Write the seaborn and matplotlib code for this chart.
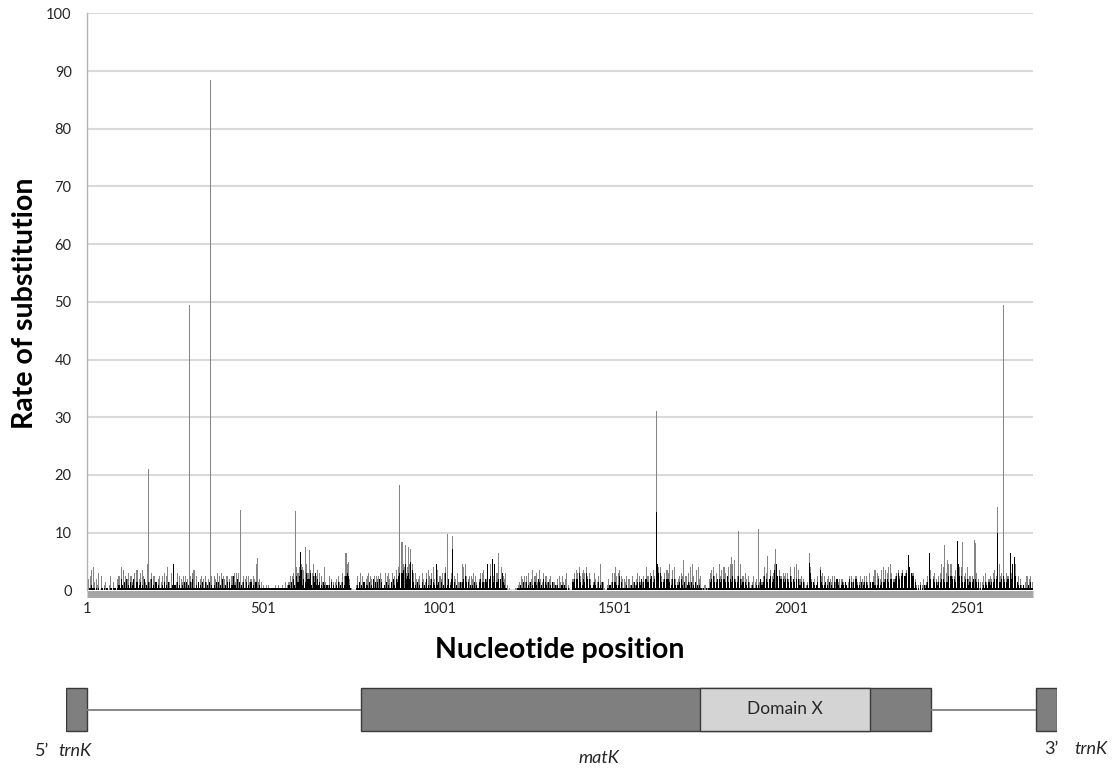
import numpy as np
import pandas as pd
import matplotlib
matplotlib.use("Agg")
import matplotlib.pyplot as plt
import seaborn as sns
from matplotlib.patches import Rectangle

# ---- data ----
n_positions = 2688
step = 3          # one background value per ~pixel column = 3 nucleotides
x_ticks = [1, 501, 1001, 1501, 2001, 2501]
y_ticks = list(range(0, 101, 10))

# background heights, one digit per column, digit * 0.5 = rate
gray_bg = (
    "3405708304" "2605002300" "0250030104" "5080735046" "0553060704" "6075030943"
    "4605520450" "3506058030" "6090360504" "3505040653" "6705020450" "4053040350"
    "5406050645" "4055040506" "3646050350" "4505340540" "9434030200" "2020101020"
    "1200120130" "2350560386" "6809870496" "8706950570" "60530"
    "8302504030" "3405303605" "9964010000" "2503605304" "5605404505" "4506402605"
    "6403605074" "8909980689" "9709606404" "5064036075" "4608403705" "4606805303"
    "6905406303" "9809504505" "4605304606" "7304803904" "5906403805" "4602010000"
    "0102305405" "3506304705" "6307403605" "5304503302" "40530"
    "5304602100" "4607608506" "7608506403" "6403509303" "1002403606" "8506705404"
    "3504205302" "4605303503" "8506407505" "7808504607" "6904708403" "4506503506"
    "3809503708" "4501020104" "6708506409" "5708605809" "6908405909" "4506405302"
    "3503405303" "5806504705" "6908407506" "5606408504" "80907"
    "4504302309" "8403402508" "5605304504" "3505303404" "4303203505" "3405303504"
    "3505306303" "5706504708" "4706809604" "5607506705" "6708605604" "2020302402"
    "3509705604" "3506908506" "8909505709" "6808405608" "4505409604" "1303506304"
    "5406705809" "5607406509" "6807903504" "20203504503"
)
black_bg = (
    "1011211101" "0101101011" "0011011101" "2142131412" "1312411312" "3121412131"
    "1412131211" "1213121311" "1292131211" "2131312131" "4112131213" "1131213121"
    "2131312141" "1213131252" "2141312131" "1312131213" "3112111111" "1111111111"
    "1111111111" "1213142153" "3517241364" "4621536242" "31213"
    "2121213121" "1213121312" "5652100000" "1213121312" "2131214131" "3141312131"
    "2113142143" "5616719456" "4517312131" "2131214121" "2413219231" "3121612412"
    "4913121131" "3415313121" "2131213413" "3143914512" "3913414163" "2110000000"
    "0011121131" "1312131213" "2143121413" "2131213121" "21112"
    "2121101000" "3414416312" "4316414212" "3211312130" "0001121313" "3212513111"
    "1211121131" "2313241314" "4314513414" "9616313414" "4312414212" "2314213123"
    "2131213121" "2110101011" "3415313414" "3414315314" "3514313514" "2313213111"
    "2111212142" "3514314513" "4719515414" "3414315314" "31414"
    "2313111217" "6313212317" "3212312131" "2113142112" "3213211413" "1314212131"
    "2313211313" "3212412313" "3414314413" "4516415615" "5617816513" "1010201021"
    "2318414313" "2313414313" "3515414313" "9515313414" "2313414313" "0101213213"
    "2313414613" "3415313419" "4919513212" "11211121311"
)

# the taller spikes (nucleotide position, gray series, black series)
peak_pos = [177, 294, 353, 436, 484, 592, 609, 623, 632, 737, 742, 890, 896, 904,
            913, 921, 1024, 1041, 1154, 1169, 1620, 1697, 1831, 1842, 1853, 1910,
            1933, 1958, 2055, 2336, 2396, 2438, 2447, 2475, 2489, 2521, 2524, 2589,
            2606, 2623, 2637]
peak_gray = [21, 49.5, 88.5, 14, 5.7, 13.8, 6.7, 7.6, 7.0, 6.5, 5.0, 18.2, 8.4, 7.9,
             7.5, 7.1, 9.8, 9.5, 0, 6.5, 31, 5.3, 5.8, 5.3, 10.3, 10.7,
             5.9, 7.1, 6.4, 0, 6.4, 7.9, 5.3, 8.5, 8.4, 8.7, 8.2, 14.5,
             49.5, 0, 0]
peak_black = [0, 0, 0, 0, 0, 0, 6.7, 0, 0, 0, 0, 0, 0, 0,
              0, 5.0, 0, 7.2, 5.5, 0, 13.5, 0, 0, 0, 0, 0,
              0, 0, 4.8, 6.1, 6.4, 0, 0, 8.5, 0, 0, 0, 10,
              0, 6.4, 5.8]

# gene map below the axis (percent of map width)
feat_start = [0, 29.75, 63.97, 97.88]
feat_end = [2.1, 87.3, 81.13, 100]
feat_color = ["#7f7f7f", "#7f7f7f", "#d4d4d4", "#7f7f7f"]
intron_start = [2.1, 87.3]
intron_end = [29.75, 97.88]


def decode(s):
    return np.array([int(c) for c in s], dtype=float) * 0.5


gray = decode(gray_bg)
black = decode(black_bg)
for p, g, b in zip(peak_pos, peak_gray, peak_black):
    i = (p - 1) // step
    gray[i] = max(gray[i], g)
    black[i] = max(black[i], b)

df = pd.DataFrame({"pos": 1 + step * np.arange(len(gray)), "gray": gray, "black": black})

sns.set_theme(style="white")
plt.rcParams["font.family"] = ["Lato", "DejaVu Sans"]

fig = plt.figure(figsize=(11.15, 7.71), dpi=100)
ax = fig.add_axes([87 / 1115, 180.6 / 771, 946 / 1115, 577.1 / 771])

sns.barplot(data=df, x="pos", y="gray", native_scale=True, color="#858585",
            saturation=1, width=1, linewidth=0, errorbar=None, antialiased=False, ax=ax)
sns.barplot(data=df, x="pos", y="black", native_scale=True, color="#000000",
            saturation=1, width=1, linewidth=0, errorbar=None, antialiased=False, ax=ax)

ax.set_xlim(0, n_positions)
ax.set_ylim(0, 100)
ax.set_xticks(x_ticks)
ax.set_xticklabels([str(t) for t in x_ticks])
ax.set_yticks(y_ticks)
ax.set_xlabel("")
ax.set_ylabel("")
ax.yaxis.grid(True, color="#d9d9d9", lw=1.5)
ax.set_axisbelow(True)
for s in ["top", "right", "bottom"]:
    ax.spines[s].set_visible(False)
ax.spines["left"].set_color("#b3b3b3")
ax.spines["left"].set_linewidth(1)
ax.tick_params(axis="y", length=4, color="#d9d9d9", labelsize=10.5, labelcolor="#262626", pad=7)
ax.tick_params(axis="x", length=0, labelsize=10.5, labelcolor="#262626", pad=8)
# thick grey axis band sitting just under zero
ax.axhline(-0.6, color="#a6a6a6", lw=5, zorder=5, clip_on=False, solid_capstyle="butt")

fig.text(25 / 1115, 0.607, "Rate of substitution", rotation=90, ha="center", va="center",
         fontsize=20.5, fontweight="bold", color="black")
fig.text(560 / 1115, (771 - 650) / 771, "Nucleotide position", ha="center", va="center",
         fontsize=20.5, fontweight="bold", color="black")

# gene map
gax = fig.add_axes([66 / 1115, 0, 991 / 1115, 87 / 771])
gax.set_xlim(0, 100)
gax.set_ylim(0, 87)
gax.axis("off")
for a, b in zip(intron_start, intron_end):
    gax.plot([a, b], [61.5, 61.5], color="#7f7f7f", lw=1.3, solid_capstyle="butt")
for a, b, c in zip(feat_start, feat_end, feat_color):
    gax.add_patch(Rectangle((a, 40), b - a, 43, facecolor=c, edgecolor="#3a3a3a", lw=1))
gax.text((feat_start[2] + feat_end[2]) / 2, 61.5, "Domain X", ha="center", va="center",
         fontsize=12.5, color="#262626")
gax.text(-3.13, 20, "5\u2019", ha="left", va="center", fontsize=13, color="#262626", clip_on=False)
gax.text(-0.8, 20, "trnK", ha="left", va="center", fontsize=13, style="italic",
         color="#262626", clip_on=False)
gax.text(53.8, 13, "matK", ha="center", va="center", fontsize=13, style="italic", color="#262626")
gax.text(98.7, 22, "3\u2019", ha="left", va="center", fontsize=13, color="#262626", clip_on=False)
gax.text(101.8, 22, "trnK", ha="left", va="center", fontsize=13, style="italic",
         color="#262626", clip_on=False)

fig.savefig("out.png", dpi=100)
